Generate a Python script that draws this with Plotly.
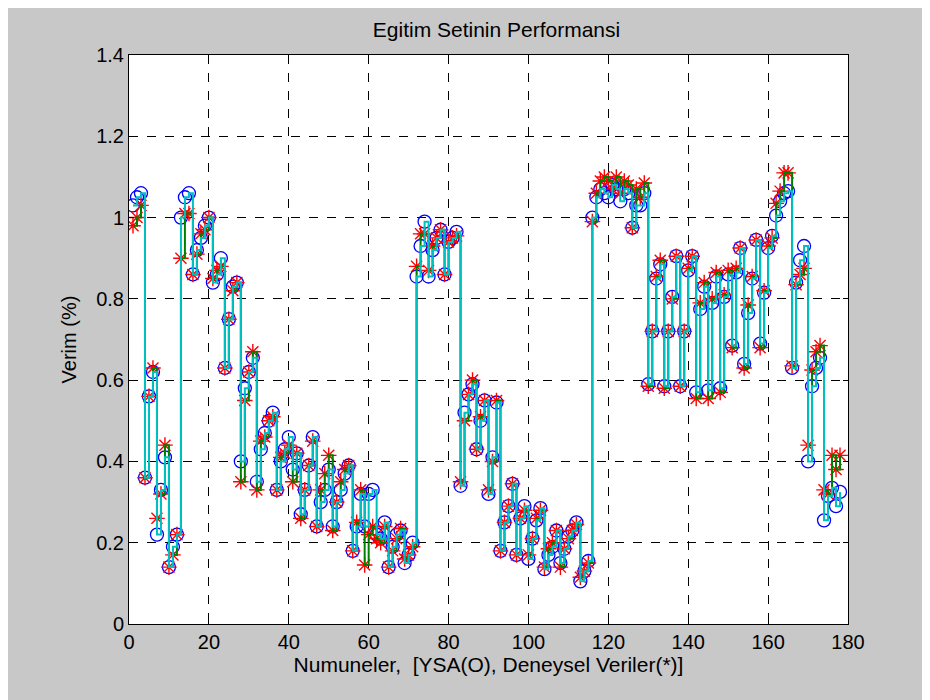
import plotly.graph_objects as go

# YSA (network output, circles) values, sample 1..178
ysa = [1.03, 1.05, 1.06, 0.36, 0.56, 0.62, 0.22, 0.33, 0.41, 0.14,
       0.19, 0.22, 1.00, 1.05, 1.06, 0.86, 0.92, 0.95, 0.98, 1.00,
       0.84, 0.86, 0.90, 0.63, 0.75, 0.83, 0.84, 0.40, 0.58, 0.62,
       0.655, 0.35, 0.43, 0.47, 0.50, 0.52, 0.33, 0.40, 0.43, 0.46,
       0.38, 0.42, 0.27, 0.33, 0.39, 0.46, 0.24, 0.30, 0.33, 0.38,
       0.24, 0.30, 0.33, 0.37, 0.39, 0.18, 0.24, 0.32, 0.24, 0.32,
       0.33, 0.22, 0.21, 0.25, 0.14, 0.19, 0.22, 0.23, 0.15, 0.17,
       0.20, 0.855, 0.93, 0.99, 0.855, 0.92, 0.95, 0.97, 0.86, 0.94,
       0.95, 0.965, 0.34, 0.52, 0.565, 0.59, 0.43, 0.50, 0.55, 0.32,
       0.41, 0.545, 0.18, 0.25, 0.29, 0.345, 0.17, 0.26, 0.29, 0.16,
       0.21, 0.255, 0.285, 0.135, 0.17, 0.19, 0.23, 0.15, 0.185, 0.215,
       0.23, 0.25, 0.105, 0.13, 0.155, 1.00, 1.05, 1.07, 1.06, 1.05,
       1.08, 1.07, 1.04, 1.07, 1.06, 0.975, 1.03, 1.03, 1.06, 0.59,
       0.72, 0.85, 0.885, 0.585, 0.72, 0.805, 0.905, 0.585, 0.72, 0.87,
       0.905, 0.57, 0.775, 0.83, 0.575, 0.79, 0.855, 0.58, 0.805, 0.86,
       0.685, 0.865, 0.925, 0.64, 0.765, 0.85, 0.945, 0.69, 0.815, 0.925,
       0.955, 1.005, 1.04, 1.06, 1.065, 0.63, 0.84, 0.895, 0.93, 0.40,
       0.585, 0.63, 0.655, 0.255, 0.315, 0.335, 0.29, 0.325]

# Experimental data (stars)
deney = [0.98, 1.00, 1.03, 0.36, 0.56, 0.63, 0.26, 0.32, 0.44, 0.14,
         0.17, 0.22, 0.90, 1.01, 1.01, 0.86, 0.91, 0.96, 0.97, 1.00,
         0.85, 0.87, 0.88, 0.63, 0.75, 0.82, 0.84, 0.35, 0.55, 0.62,
         0.67, 0.33, 0.45, 0.46, 0.50, 0.51, 0.33, 0.41, 0.42, 0.44,
         0.35, 0.42, 0.26, 0.33, 0.39, 0.45, 0.24, 0.33, 0.37, 0.415,
         0.23, 0.30, 0.35, 0.38, 0.39, 0.18, 0.25, 0.33, 0.145, 0.22,
         0.24, 0.21, 0.20, 0.24, 0.14, 0.18, 0.21, 0.235, 0.16, 0.17,
         0.19, 0.88, 0.96, 0.96, 0.87, 0.93, 0.95, 0.97, 0.86, 0.94,
         0.95, 0.955, 0.35, 0.50, 0.565, 0.60, 0.43, 0.51, 0.55, 0.33,
         0.40, 0.55, 0.18, 0.25, 0.29, 0.345, 0.17, 0.26, 0.28, 0.17,
         0.21, 0.26, 0.28, 0.14, 0.185, 0.20, 0.23, 0.14, 0.185, 0.21,
         0.23, 0.245, 0.115, 0.13, 0.15, 0.99, 1.06, 1.09, 1.10, 1.09,
         1.07, 1.10, 1.06, 1.09, 1.08, 0.975, 1.07, 1.05, 1.085, 0.585,
         0.72, 0.855, 0.895, 0.58, 0.72, 0.80, 0.905, 0.585, 0.72, 0.875,
         0.905, 0.555, 0.79, 0.84, 0.555, 0.80, 0.865, 0.57, 0.81, 0.87,
         0.68, 0.875, 0.925, 0.63, 0.785, 0.855, 0.945, 0.68, 0.82, 0.93,
         0.95, 1.035, 1.065, 1.11, 1.11, 0.635, 0.835, 0.86, 0.875, 0.44,
         0.625, 0.67, 0.685, 0.33, 0.32, 0.415, 0.38, 0.415]

samples = list(range(1, len(ysa) + 1))

x_ticks = [0, 20, 40, 60, 80, 100, 120, 140, 160, 180]
y_ticks = [0, 0.2, 0.4, 0.6, 0.8, 1.0, 1.2, 1.4]
y_labels = ["0", "0.2", "0.4", "0.6", "0.8", "1", "1.2", "1.4"]

NARROW = "Liberation Sans Narrow, Arial Narrow, sans-serif"
FONT = "Liberation Sans, Arial, sans-serif"

fig = go.Figure()
fig.add_trace(go.Scatter(x=samples, y=ysa, mode="markers",
                         marker=dict(symbol="circle-open", size=13,
                                     color="#0000FF", line=dict(width=1.3, color="#0000FF")),
                         showlegend=False))
fig.add_trace(go.Scatter(x=samples, y=deney, mode="markers",
                         marker=dict(symbol="asterisk-open", size=13,
                                     color="#FF0000", line=dict(width=1.4, color="#FF0000")),
                         showlegend=False))
fig.add_trace(go.Scatter(x=samples, y=deney, mode="lines", line_shape="hv",
                         line=dict(color="#008000", width=2), showlegend=False))
fig.add_trace(go.Scatter(x=samples, y=ysa, mode="lines", line_shape="hv",
                         line=dict(color="#00C0C0", width=2), showlegend=False))

axis_common = dict(showline=True, linecolor="black", linewidth=1, mirror="ticks",
                   ticks="inside", ticklen=5, tickcolor="black",
                   showgrid=True, gridcolor="black", griddash="dash", gridwidth=1,
                   zeroline=False, tickfont=dict(family=NARROW, size=20, color="black"))

fig.update_layout(
    width=930, height=700,
    paper_bgcolor="#C8C8C8", plot_bgcolor="white",
    margin=dict(l=121, r=90, t=47, b=84),
    title=dict(text="Egitim Setinin Performansi", x=(129 + 848) / 2 / 930, xanchor="center",
               y=1 - 22 / 700, yanchor="middle", yref="container",
               font=dict(family=NARROW, size=21, color="black")),
    xaxis=dict(range=[0, 180], tickvals=x_ticks,
               title=dict(text="Numuneler,  [YSA(O), Deneysel Veriler(*)]", standoff=1,
                          font=dict(family=FONT, size=21, color="black")),
               **axis_common),
    yaxis=dict(range=[0, 1.4], tickvals=y_ticks, ticktext=y_labels,
               title=dict(text="Verim (%)", standoff=14,
                          font=dict(family=FONT, size=20, color="black")),
               **axis_common),
)

fig.write_html("out.html")
